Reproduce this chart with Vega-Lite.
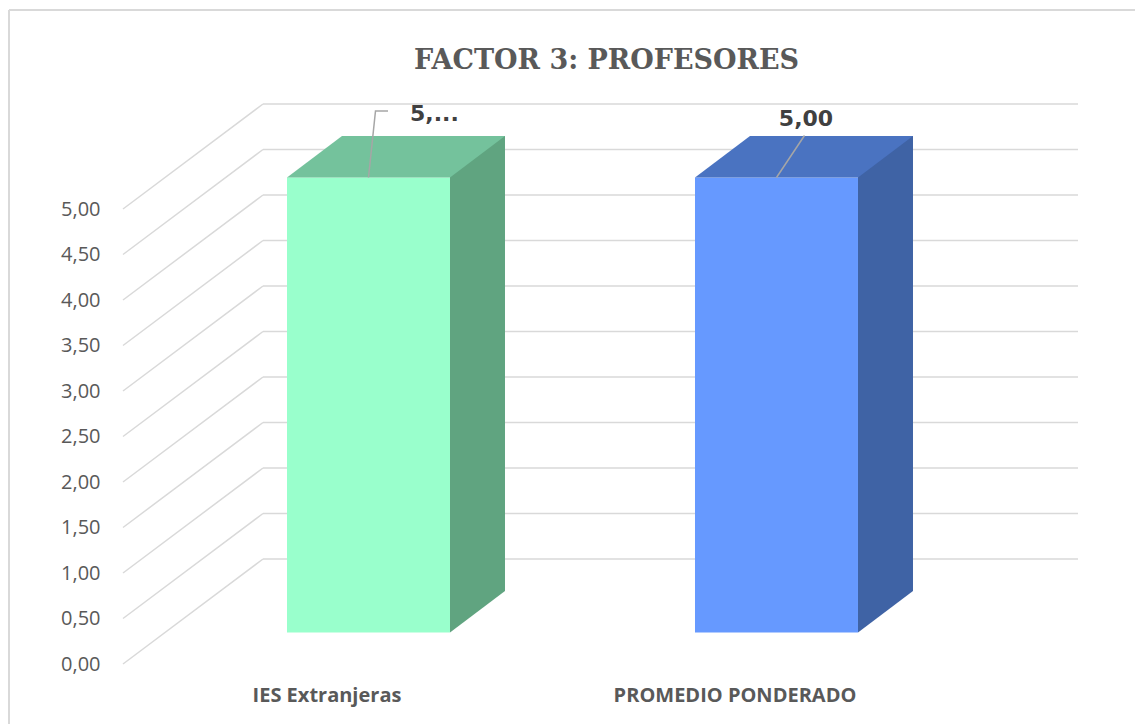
{
  "$schema": "https://vega.github.io/schema/vega-lite/v6.json",
  "width": 955,
  "height": 455,
  "autosize": {"type": "none"},
  "padding": {"left": 123, "top": 209, "right": 57, "bottom": 60},
  "background": "white",
  "title": {
    "text": "FACTOR 3: PROFESORES",
    "font": "DejaVu Serif",
    "fontSize": 27,
    "fontWeight": "bold",
    "color": "#595959",
    "anchor": "middle",
    "frame": "group",
    "baseline": "alphabetic",
    "offset": -87,
    "dx": 6
  },
  "datasets": {
    "barras": [
      {"categoria": "IES Extranjeras", "valor": 5.0, "etiqueta": "5,..."},
      {"categoria": "PROMEDIO PONDERADO", "valor": 5.0, "etiqueta": "5,00"}
    ],
    "rejilla": [
      {"v": 0}, {"v": 0.5}, {"v": 1}, {"v": 1.5}, {"v": 2}, {"v": 2.5},
      {"v": 3}, {"v": 3.5}, {"v": 4}, {"v": 4.5}, {"v": 5}
    ]
  },
  "config": {
    "view": {"stroke": null},
    "axisX": {
      "domain": false, "ticks": false, "tickSize": 0, "grid": false, "labelAngle": 0,
      "labelFont": "Open Sans", "labelFontWeight": "bold", "labelFontSize": 20,
      "labelColor": "#595959", "labelPadding": 21.5, "labelBaseline": "top", "labelLimit": 0
    },
    "axisY": {
      "domain": false, "ticks": false, "tickSize": 0, "grid": false,
      "labelFont": "Open Sans", "labelFontSize": 20, "labelColor": "#595959", "labelPadding": 23
    }
  },
  "layer": [
    {
      "data": {"values": [{}]},
      "mark": {"type": "rule", "color": "#D9D9D9", "strokeWidth": 2},
      "encoding": {"x": {"value": -114}, "y": {"value": -199}, "y2": {"value": 530}}
    },
    {
      "data": {"values": [{}]},
      "mark": {"type": "rule", "color": "#D9D9D9", "strokeWidth": 2},
      "encoding": {"y": {"value": -199}, "x": {"value": -114}, "x2": {"value": 1020}}
    },
    {
      "data": {"name": "rejilla"},
      "mark": {"type": "rule", "color": "#D9D9D9", "strokeWidth": 1.5, "yOffset": -105},
      "encoding": {
        "y": {
          "field": "v", "type": "quantitative", "title": null,
          "scale": {"domain": [0, 5], "nice": false, "zero": true},
          "axis": {"values": [0, 0.5, 1, 1.5, 2, 2.5, 3, 3.5, 4, 4.5, 5], "labelExpr": "replace(format(datum.value, '.2f'), '.', ',')"}
        },
        "x": {"value": 140},
        "x2": {"value": 955}
      }
    },
    {
      "data": {"name": "rejilla"},
      "mark": {"type": "rule", "color": "#D9D9D9", "strokeWidth": 1.5, "y2Offset": -105},
      "encoding": {
        "y": {"field": "v", "type": "quantitative", "title": null},
        "y2": {"field": "v"},
        "x": {"value": 0},
        "x2": {"value": 140}
      }
    },
    {
      "data": {"name": "barras"},
      "mark": {"type": "bar", "width": 55, "xOffset": 150.5, "yOffset": -73, "y2Offset": -73},
      "encoding": {
        "x": {
          "field": "categoria", "type": "nominal", "title": null,
          "scale": {"domain": ["IES Extranjeras", "PROMEDIO PONDERADO"], "paddingInner": 0.6005, "paddingOuter": 0.4706, "align": 0.319}
        },
        "y": {"field": "valor", "type": "quantitative", "title": null},
        "y2": {"datum": 0},
        "color": {"field": "categoria", "type": "nominal", "scale": {"range": ["#60A480", "#3F63A5"]}, "legend": null}
      }
    },
    {
      "data": {"name": "barras"},
      "mark": {"type": "point", "shape": "M81.5,-41.5L136.5,-41.5L81.5,0Z", "size": 4, "filled": true, "opacity": 1, "strokeWidth": 0, "xOffset": 41.5, "yOffset": -31.5},
      "encoding": {
        "x": {"field": "categoria", "type": "nominal", "title": null},
        "y": {"datum": 0},
        "color": {"field": "categoria", "type": "nominal", "scale": {"range": ["#60A480", "#3F63A5"]}, "legend": null}
      }
    },
    {
      "data": {"name": "barras"},
      "mark": {"type": "bar", "xOffset": 41.5, "yOffset": -31.5, "y2Offset": -31.5},
      "encoding": {
        "x": {"field": "categoria", "type": "nominal", "title": null},
        "y": {"field": "valor", "type": "quantitative", "title": null},
        "y2": {"datum": 0},
        "color": {"field": "categoria", "type": "nominal", "scale": {"range": ["#99FFCC", "#6699FF"]}, "legend": null}
      }
    },
    {
      "data": {"name": "barras"},
      "mark": {"type": "point", "shape": "M-81.5,0L81.5,0L136.5,-41.5L-26.5,-41.5Z", "size": 4, "filled": true, "opacity": 1, "strokeWidth": 0, "xOffset": 41.5, "yOffset": -31.5},
      "encoding": {
        "x": {"field": "categoria", "type": "nominal", "title": null},
        "y": {"field": "valor", "type": "quantitative", "title": null},
        "color": {"field": "categoria", "type": "nominal", "scale": {"range": ["#74C29C", "#4A73C1"]}, "legend": null}
      }
    },
    {
      "data": {"name": "barras"},
      "mark": {"type": "point", "size": 4, "filled": false, "opacity": 1, "color": "#A6A6A6", "strokeWidth": 1.5, "xOffset": 41.5, "yOffset": -31.5},
      "encoding": {
        "x": {"field": "categoria", "type": "nominal", "title": null},
        "y": {"field": "valor", "type": "quantitative", "title": null},
        "shape": {"field": "categoria", "type": "nominal", "scale": {"range": ["M0,0L7,-66.5L19.5,-66.5", "M0,0L28,-42"]}, "legend": null}
      }
    },
    {
      "data": {"name": "barras"},
      "transform": [{"filter": "datum.categoria === 'IES Extranjeras'"}],
      "mark": {"type": "text", "align": "left", "baseline": "alphabetic", "dx": 83, "dy": -88, "font": "DejaVu Sans", "fontWeight": "bold", "fontSize": 22, "color": "#404040"},
      "encoding": {
        "x": {"field": "categoria", "type": "nominal", "title": null},
        "y": {"field": "valor", "type": "quantitative", "title": null},
        "text": {"field": "etiqueta"}
      }
    },
    {
      "data": {"name": "barras"},
      "transform": [{"filter": "datum.categoria === 'PROMEDIO PONDERADO'"}],
      "mark": {"type": "text", "align": "center", "baseline": "alphabetic", "dx": 71, "dy": -83, "font": "DejaVu Sans", "fontWeight": "bold", "fontSize": 22, "color": "#404040"},
      "encoding": {
        "x": {"field": "categoria", "type": "nominal", "title": null},
        "y": {"field": "valor", "type": "quantitative", "title": null},
        "text": {"field": "etiqueta"}
      }
    }
  ],
  "resolve": {"scale": {"color": "independent"}}
}
